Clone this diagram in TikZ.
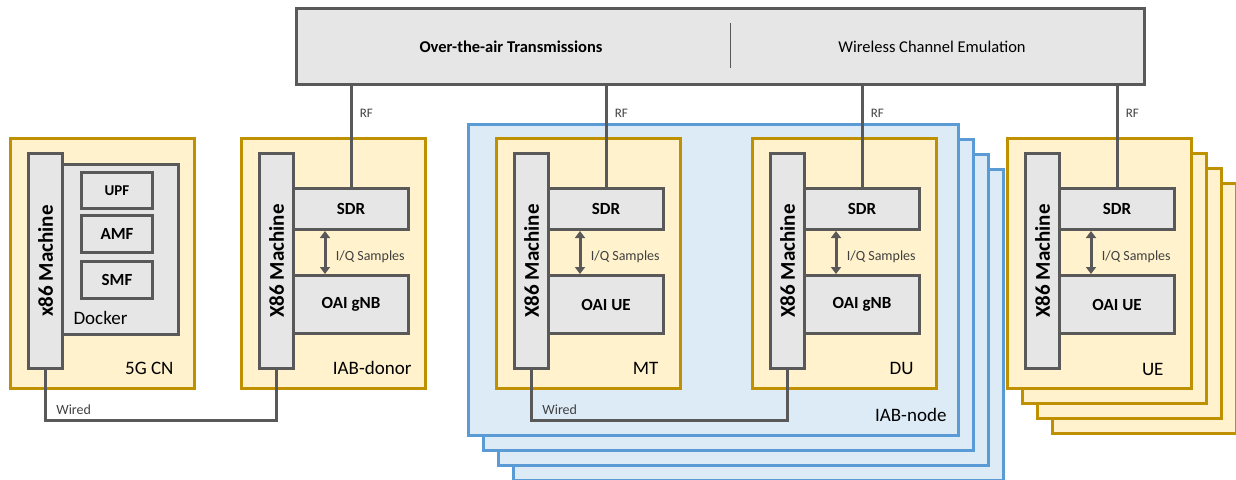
\documentclass[tikz,border=0pt]{standalone}
\usepackage{fontspec}
\setmainfont{Carlito}
\usetikzlibrary{arrows.meta,positioning}

\definecolor{boxgray}{HTML}{E7E6E6}
\definecolor{edgegray}{HTML}{595959}
\definecolor{textgray}{HTML}{404040}
\definecolor{gold}{HTML}{BF9000}
\definecolor{cream}{HTML}{FFF2CC}
\definecolor{skyedge}{HTML}{5B9BD5}
\definecolor{skyfill}{HTML}{DDEBF7}

\tikzset{
  graybox/.style={draw=edgegray, fill=boxgray, line width=3pt, inner sep=0pt, anchor=north west},
  unitbox/.style={draw=gold, fill=cream, line width=3pt, inner sep=0pt, minimum width=184pt, minimum height=250pt, anchor=north west},
  stackbox/.style={draw=skyedge, fill=skyfill, line width=2.5pt, inner sep=0pt, minimum width=490pt, minimum height=311pt, anchor=north west},
  mach/.style={graybox, minimum width=34pt, minimum height=215pt},
  machtxt/.style={rotate=90, font=\fontsize{21}{21}\selectfont\bfseries},
  sdrbox/.style={graybox, minimum width=115pt, minimum height=41pt, font=\fontsize{17}{17}\selectfont\bfseries},
  oaibox/.style={graybox, minimum width=115pt, minimum height=58pt, font=\fontsize{17}{17}\selectfont\bfseries},
  nfbox/.style={graybox, minimum width=71pt, minimum height=37pt, font=\fontsize{17}{17}\selectfont\bfseries},
  unitlbl/.style={anchor=east, font=\fontsize{19}{19}\selectfont},
  conn/.style={draw=edgegray, line width=3pt},
  iq/.style={conn, {Triangle[width=10pt,length=7pt]}-{Triangle[width=10pt,length=7pt]}},
  smalllbl/.style={text=textgray, font=\fontsize{14}{14}\selectfont},
  rflbl/.style={text=textgray, font=\fontsize{13}{13}\selectfont},
}

\begin{document}
\begin{tikzpicture}[x=1pt, y=-1pt]
  \useasboundingbox (0,0) rectangle (1236,479);

  % channel box
  \node[graybox, minimum width=848pt, minimum height=76pt] (air) at (295,7) {};
  \node[font=\fontsize{16.5}{16.5}\selectfont\bfseries] (ota) at (511,47) {Over-the-air Transmissions};
  \node[font=\fontsize{16.5}{16.5}\selectfont] (wce) at (932,47) {Wireless Channel Emulation};
  \draw[edgegray, line width=0.8pt] (730,23) -- (730,68);

  % 5G CN
  \node[unitbox] (cn) at (9,137) {};
  \node[graybox, minimum width=116pt, minimum height=170pt] (docker) at (61,163) {};
  \node[mach] (x86C) at (27,152) {};
  \node[machtxt] (x86Ctxt) at (x86C) {x86 Machine};
  \node[nfbox, font=\fontsize{15}{15}\selectfont\bfseries, minimum height=36pt] (upf) at (80,171) {UPF};
  \node[nfbox] (amf) at (80,214) {AMF};
  \node[nfbox] (smf) at (80,260) {SMF};
  \node[anchor=west, font=\fontsize{19}{19}\selectfont] (dockerlbl) at (70,318) {Docker};
  \node[unitlbl] (cnlbl) at (177,368) {5G CN};

  % IAB-donor
  \node[unitbox] (donor) at (240,137) {};
  \node[sdrbox] (sdrD) at (292,187) {SDR};
  \node[oaibox] (gnbD) at (292,274) {OAI gNB};
  \node[mach] (x86D) at (258,152) {};
  \node[machtxt] (x86Dtxt) at (x86D) {X86 Machine};
  \node[unitlbl] (donorlbl) at (415,368) {IAB-donor};

  % IAB-node stack
  \node[stackbox] (node3) at (512,168) {};
  \node[stackbox] (node2) at (497,153) {};
  \node[stackbox] (node1) at (482,138) {};
  \node[stackbox] (iab) at (467,123) {};
  \node[unitlbl] (iablbl) at (950,415) {IAB-node};

  % MT
  \node[unitbox] (mt) at (495,137) {};
  \node[sdrbox] (sdrM) at (547,187) {SDR};
  \node[oaibox] (ueM) at (547,274) {OAI UE};
  \node[mach] (x86M) at (513,152) {};
  \node[machtxt] (x86Mtxt) at (x86M) {X86 Machine};
  \node[unitlbl] (mtlbl) at (662,368) {MT};

  % DU
  \node[unitbox] (du) at (751,137) {};
  \node[sdrbox] (sdrU) at (803,187) {SDR};
  \node[oaibox] (gnbU) at (803,274) {OAI gNB};
  \node[mach] (x86U) at (769,152) {};
  \node[machtxt] (x86Utxt) at (x86U) {X86 Machine};
  \node[unitlbl] (dulbl) at (917,368) {DU};

  % UE stack
  \node[unitbox] (ue3) at (1051,182) {};
  \node[unitbox] (ue2) at (1036,167) {};
  \node[unitbox] (ue1) at (1021,152) {};
  \node[unitbox] (ue) at (1006,137) {};
  \node[sdrbox] (sdrE) at (1058,187) {SDR};
  \node[oaibox] (ueE) at (1058,274) {OAI UE};
  \node[mach] (x86E) at (1024,152) {};
  \node[machtxt] (x86Etxt) at (x86E) {X86 Machine};
  \node[unitlbl] (uelbl) at (1167,369) {UE};

  % RF links
  \draw[conn] (air.south -| sdrD.north) -- (sdrD.north) node[rflbl, pos=0.27, right=4pt] {RF};
  \draw[conn] (air.south -| sdrM.north) -- (sdrM.north) node[rflbl, pos=0.27, right=4pt] {RF};
  \draw[conn] (air.south -| sdrU.north) -- (sdrU.north) node[rflbl, pos=0.27, right=4pt] {RF};
  \draw[conn] (air.south -| sdrE.north) -- (sdrE.north) node[rflbl, pos=0.27, right=4pt] {RF};

  % I/Q samples
  \draw[iq] ([xshift=-26pt]sdrD.south) -- ([xshift=-26pt]gnbD.north) node[smalllbl, pos=0.6, right=6pt] {I/Q Samples};
  \draw[iq] ([xshift=-26pt]sdrM.south) -- ([xshift=-26pt]ueM.north) node[smalllbl, pos=0.6, right=6pt] {I/Q Samples};
  \draw[iq] ([xshift=-26pt]sdrU.south) -- ([xshift=-26pt]gnbU.north) node[smalllbl, pos=0.6, right=6pt] {I/Q Samples};
  \draw[iq] ([xshift=-26pt]sdrE.south) -- ([xshift=-26pt]ueE.north) node[smalllbl, pos=0.6, right=6pt] {I/Q Samples};

  % wired links
  \draw[conn] (x86C.south) -- ++(0,50) node[smalllbl, anchor=south west, xshift=6pt, yshift=1pt] {Wired} -| (x86D.south);
  \draw[conn] (x86M.south) -- ++(0,50) node[smalllbl, anchor=south west, xshift=6pt, yshift=1pt] {Wired} -| (x86U.south);
\end{tikzpicture}
\end{document}
